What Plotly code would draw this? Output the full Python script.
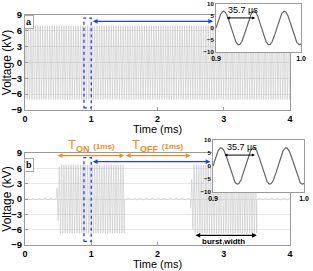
import numpy as np
import plotly.graph_objects as go

# ---- values ----
period_us = 35.7                 # carrier period (µs)
amp_cont_kv = 7.0                # continuous-wave amplitude (kV)
amp_burst_kv = 6.7               # burst amplitude (kV)
burst_on_ms = [0.48, 2.5]        # burst start times
burst_off_ms = [1.5, 3.5]        # burst end times
ripple_kv = 0.2                  # residual ripple between bursts
ripple_period_ms = 0.09
y_ticks = [-9, -6, -3, 0, 3, 6, 9]
x_ticks = [0, 1, 2, 3, 4]
inset_y_ticks = [-10, -5, 0, 5, 10]
inset_x_ticks = [0.9, 1.0]

P = period_us / 1000.0
t = np.linspace(0, 4, 9001)
ti = np.linspace(0.9, 1.0, 600)

def carrier(tt, amp):
    return amp * np.sin(2 * np.pi * (tt - 0.9) / P)

v_a = carrier(t, amp_cont_kv)
env = np.zeros_like(t)
for on, off in zip(burst_on_ms, burst_off_ms):
    ramp = np.clip((t - on) / 0.04, 0, 1)
    env = np.where((t >= on) & (t <= off), np.maximum(env, 0.3 + 0.7 * ramp), env)
v_b = carrier(t, amp_burst_kv) * env + np.where(env == 0, ripple_kv * np.sin(2 * np.pi * t / ripple_period_ms), 0)
vi_a = carrier(ti, amp_cont_kv)
vi_b = carrier(ti, amp_cont_kv)

GREY = "#c4c4c4"
BLUE = "#1f3cff"
ORANGE = "#f28c1c"
FONT = "Liberation Sans"

fig = go.Figure()
fig.add_trace(go.Scatter(x=t, y=v_a, mode="lines", line=dict(color=GREY, width=0.6), xaxis="x", yaxis="y", hoverinfo="skip"))
fig.add_trace(go.Scatter(x=t, y=v_b, mode="lines", line=dict(color=GREY, width=0.6), xaxis="x2", yaxis="y2", hoverinfo="skip"))
fig.add_trace(go.Scatter(x=ti, y=vi_a, mode="lines", line=dict(color="#666", width=1.2), xaxis="x3", yaxis="y3", hoverinfo="skip"))
fig.add_trace(go.Scatter(x=ti, y=vi_b, mode="lines", line=dict(color="#666", width=1.2), xaxis="x4", yaxis="y4", hoverinfo="skip"))

W, H = 313, 271
def fx(a, b): return [a / W, b / W]
def fy(top, bot): return [1 - bot / H, 1 - top / H]

main_x = dict(range=[0, 4], tickvals=x_ticks, showline=True, mirror=True, linecolor="#9a9a9a", linewidth=1.2,
              ticks="inside", ticklen=3, tickcolor="#9a9a9a", showgrid=False, zeroline=False, automargin=False,
              tickfont=dict(family=FONT, size=9, color="black", weight="bold"))
main_y = dict(range=[-9, 9], tickvals=y_ticks, showline=True, mirror=True, linecolor="#9a9a9a", linewidth=1.2,
              ticks="inside", ticklen=3, tickcolor="#9a9a9a", showgrid=True, gridcolor="#e6e6e6", gridwidth=1,
              zeroline=False, automargin=False, tickfont=dict(family=FONT, size=9.5, color="black", weight="bold"),
              title=dict(text="Voltage (kV)", font=dict(family=FONT, size=12, color="black"), standoff=0))
inset_x = dict(range=[0.9, 1.0], tickvals=inset_x_ticks, ticktext=["0.9", "1.0"], showline=True, mirror=True,
               linecolor="#9a9a9a", linewidth=1, ticks="", showgrid=False, zeroline=False, automargin=False,
               tickfont=dict(family=FONT, size=7, color="black", weight="bold"))
inset_y = dict(range=[-10, 10], tickvals=inset_y_ticks, showline=True, mirror=True, linecolor="#9a9a9a", linewidth=1,
               ticks="", showgrid=False, zeroline=False, automargin=False,
               tickfont=dict(family=FONT, size=6, color="black", weight="bold"))

fig.update_layout(
    width=W, height=H, margin=dict(l=0, r=0, t=0, b=0, autoexpand=False),
    paper_bgcolor="white", plot_bgcolor="white", showlegend=False,
    xaxis=dict(main_x, domain=fx(25, 290), anchor="y"),
    yaxis=dict(main_y, domain=fy(15, 110), anchor="x"),
    xaxis2=dict(main_x, domain=fx(25, 290), anchor="y2"),
    yaxis2=dict(main_y, domain=fy(153, 245), anchor="x2"),
    xaxis3=dict(inset_x, domain=fx(216, 301), anchor="y3"),
    yaxis3=dict(inset_y, domain=fy(4, 52), anchor="x3"),
    xaxis4=dict(inset_x, domain=fx(213, 304), anchor="y4"),
    yaxis4=dict(inset_y, domain=fy(140, 192), anchor="x4"),
)

shapes = []
for xr, yr in (("x3", "y3"), ("x4", "y4")):
    shapes.append(dict(type="rect", xref=xr + " domain", yref=yr + " domain", x0=0, x1=1, y0=0, y1=1,
                       fillcolor="white", line=dict(width=0), layer="below"))
shapes.append(dict(type="rect", xref="x", yref="y", x0=0.89, x1=1.0, y0=-8.6, y1=8.4,
                   line=dict(color=BLUE, width=1.3, dash="dot")))
shapes.append(dict(type="rect", xref="x2", yref="y2", x0=0.89, x1=1.0, y0=-8.3, y1=8.1,
                   line=dict(color=BLUE, width=1.3, dash="dot")))
fig.update_layout(shapes=shapes)

ann = []
def arrow(xr, yr, x0, x1, y, color, both=True, width=1.2, size=0.8):
    ann.append(dict(xref=xr, yref=yr, axref=xr, ayref=yr, x=x1, y=y, ax=x0, ay=y, text="", showarrow=True,
                    arrowhead=2, startarrowhead=2, arrowside="end+start" if both else "end",
                    arrowcolor=color, arrowwidth=width, arrowsize=size, startarrowsize=size))

arrow("x", "y", 1.0, 2.84, 7.8, BLUE)
arrow("x2", "y2", 1.0, 2.8, 7.3, BLUE)
arrow("x2", "y2", 0.47, 1.5, 8.5, ORANGE)
arrow("x2", "y2", 1.5, 2.5, 8.5, ORANGE)
arrow("x2", "y2", 2.55, 3.5, -7.1, "black")
arrow("x3", "y3", 0.911, 0.946, 4.2, "black", size=0.6, width=1)
arrow("x4", "y4", 0.911, 0.946, 4.2, "black", size=0.6, width=1)

# x-axis titles
ann.append(dict(xref="x", yref="paper", x=2.0, y=1 - 129 / H, text="Time (ms)", showarrow=False,
                font=dict(family=FONT, size=11, color="black"), borderpad=0))
ann.append(dict(xref="x2", yref="paper", x=2.0, y=0, yanchor="bottom", text="Time (ms)", showarrow=False,
                font=dict(family=FONT, size=11, color="black"), borderpad=0))

ann.append(dict(xref="x", yref="y", x=0.06, y=7.6, text="<b>a</b>", showarrow=False, bordercolor="#aaa",
                borderwidth=1, borderpad=1, bgcolor="white", font=dict(family=FONT, size=9, color="black")))
ann.append(dict(xref="x2", yref="y2", x=0.06, y=6.6, text="<b>b</b>", showarrow=False, bordercolor="#aaa",
                borderwidth=1, borderpad=1, bgcolor="white", font=dict(family=FONT, size=9, color="black")))
ann.append(dict(xref="x2", yref="paper", x=1.0, y=1 - 145 / H, text="T<sub><b>ON</b></sub> <b><span style='font-size:8px'>(1ms)</span></b>",
                showarrow=False, font=dict(family=FONT, size=13, color=ORANGE)))
ann.append(dict(xref="x2", yref="paper", x=2.0, y=1 - 145 / H, text="T<sub><b>OFF</b></sub> <b><span style='font-size:8px'>(1ms)</span></b>",
                showarrow=False, font=dict(family=FONT, size=13, color=ORANGE)))
ann.append(dict(xref="x2", yref="y2", x=3.0, y=-8.3, text="<b>burst width</b>", showarrow=False,
                font=dict(family=FONT, size=8, color="black")))
ann.append(dict(xref="x3", yref="y3", x=0.932, y=7.5, text="35.7 µs", showarrow=False,
                font=dict(family=FONT, size=9, color="black")))
ann.append(dict(xref="x4", yref="y4", x=0.932, y=7.5, text="35.7 µs", showarrow=False,
                font=dict(family=FONT, size=9, color="black")))
fig.update_layout(annotations=ann)

fig.write_html("out.html", config={"displayModeBar": False},
               post_script="document.body.style.margin='0';document.body.style.padding='0';")
